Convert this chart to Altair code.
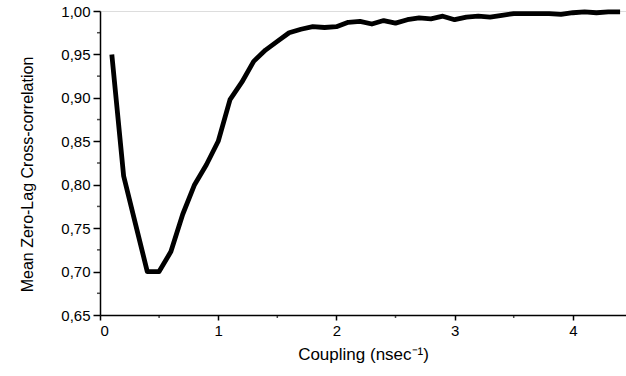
import altair as alt
import pandas as pd

coupling = [0.1, 0.2, 0.3, 0.4, 0.5, 0.6, 0.7, 0.8, 0.9, 1.0,
            1.1, 1.2, 1.3, 1.4, 1.5, 1.6, 1.7, 1.8, 1.9, 2.0,
            2.1, 2.2, 2.3, 2.4, 2.5, 2.6, 2.7, 2.8, 2.9, 3.0,
            3.1, 3.2, 3.3, 3.4, 3.5, 3.6, 3.7, 3.8, 3.9, 4.0,
            4.1, 4.2, 4.3, 4.4]
correlation = [0.950, 0.810, 0.755, 0.700, 0.700, 0.723, 0.766, 0.800, 0.823, 0.850,
               0.898, 0.918, 0.942, 0.955, 0.965, 0.975, 0.979, 0.982, 0.981, 0.982,
               0.987, 0.988, 0.985, 0.989, 0.986, 0.990, 0.992, 0.991, 0.994, 0.990,
               0.993, 0.994, 0.993, 0.995, 0.997, 0.997, 0.997, 0.997, 0.996, 0.998,
               0.999, 0.998, 0.999, 0.999]
x_ticks = [0, 1, 2, 3, 4]
x_minor = [0.5, 1.5, 2.5, 3.5]
y_ticks = [0.65, 0.70, 0.75, 0.80, 0.85, 0.90, 0.95, 1.00]
y_minor = [0.675, 0.725, 0.775, 0.825, 0.875, 0.925, 0.975]

df = pd.DataFrame({"x": coupling, "y": correlation})

font = "Liberation Sans"

line = alt.Chart(df).mark_line(color="black", strokeWidth=4.8, strokeJoin="round", strokeCap="butt").encode(
    x=alt.X("x:Q",
            scale=alt.Scale(domain=[0, 4.45], nice=False, zero=False),
            axis=alt.Axis(values=x_ticks, format="d", grid=False,
                          title="Coupling (nsec⁻¹)", titleFontSize=17, titleFontWeight="normal",
                          titleFont=font, titlePadding=8, labelFont=font, labelFontSize=15,
                          labelColor="black", titleColor="black", domainColor="black",
                          tickColor="black", domainWidth=1.5, tickWidth=1.5, tickSize=5,
                          labelPadding=3)),
    y=alt.Y("y:Q",
            scale=alt.Scale(domain=[0.65, 1.0], nice=False, zero=False),
            axis=alt.Axis(values=y_ticks, grid=False,
                          labelExpr="replace(format(datum.value, '.2f'), '.', ',')",
                          title="Mean Zero-Lag Cross-correlation", titleFontSize=16,
                          titleFontWeight="normal", titleFont=font,
                          titlePadding=25, titleY=163,
                          labelFont=font, labelFontSize=15, labelColor="black",
                          titleColor="black", domainColor="black", tickColor="black",
                          domainWidth=1.5, tickWidth=1.5, tickSize=7, labelPadding=3)),
)

minor_x = alt.Chart(pd.DataFrame({"m": x_minor})).mark_tick(
    color="black", orient="vertical", size=3, thickness=1.5, yOffset=1.5
).encode(x=alt.X("m:Q"), y=alt.value(304))

minor_y = alt.Chart(pd.DataFrame({"m": y_minor})).mark_tick(
    color="black", orient="horizontal", size=3, thickness=1.5, xOffset=-1.5
).encode(y=alt.Y("m:Q"), x=alt.value(0))

chart = alt.layer(line, minor_x, minor_y).properties(
    width=526, height=304,
    autosize=alt.AutoSizeParams(type="none"),
    padding={"left": 100, "top": 11, "right": 0, "bottom": 61},
).configure_view(stroke=None).configure(background="white")

chart.save("out.html", embed_options={"renderer": "svg", "actions": False})
